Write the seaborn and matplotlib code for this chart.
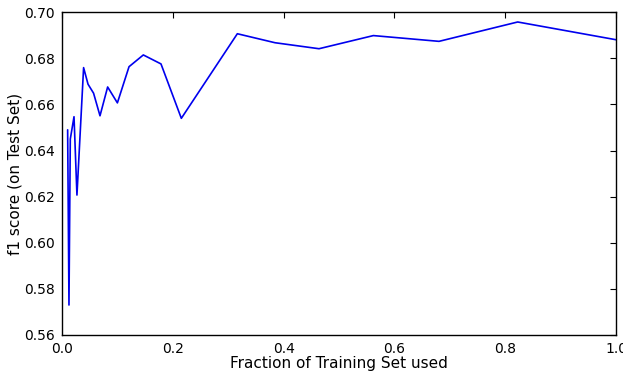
import matplotlib
matplotlib.use("Agg")
import matplotlib.pyplot as plt
import seaborn as sns
import pandas as pd

# fraction of training set used vs f1 score on test set
fractions = [0.0102, 0.0126, 0.015, 0.0217, 0.027, 0.039, 0.047, 0.057, 0.0686,
             0.0824, 0.100, 0.121, 0.1468, 0.1787, 0.2154, 0.3165, 0.3845, 0.4639,
             0.562, 0.6805, 0.8225, 1.0]
f1_scores = [0.649, 0.573, 0.645, 0.6547, 0.6207, 0.676, 0.6688, 0.6649, 0.6551,
             0.6676, 0.6607, 0.6764, 0.6815, 0.6776, 0.654, 0.6907, 0.6868, 0.6842,
             0.6899, 0.6874, 0.6958, 0.6881]
x_ticks = [0.0, 0.2, 0.4, 0.6, 0.8, 1.0]
y_ticks = [0.56, 0.58, 0.60, 0.62, 0.64, 0.66, 0.68, 0.70]

df = pd.DataFrame({"fraction": fractions, "f1": f1_scores})

sns.set_style("white")
plt.rcParams["font.family"] = ["DejaVu Sans"]
plt.rcParams["text.color"] = "black"
plt.rcParams["axes.labelcolor"] = "black"
plt.rcParams["xtick.color"] = "black"
plt.rcParams["ytick.color"] = "black"

fig = plt.figure(figsize=(6.23, 3.73), dpi=100)
ax = fig.add_axes([0.0995, 0.102, 0.8893, 0.865])

sns.lineplot(data=df, x="fraction", y="f1", color="#0000ee", linewidth=1.2,
             sort=False, ax=ax)

ax.set_xlim(0, 1.0)
ax.set_ylim(0.56, 0.70)
ax.set_xticks(x_ticks)
ax.set_yticks(y_ticks)
ax.set_xticklabels([f"{v:.1f}" for v in x_ticks])
ax.set_yticklabels([f"{v:.2f}" for v in y_ticks])
ax.tick_params(direction="in", top=True, right=True, length=4, width=0.8,
               labelsize=10, colors="black", pad=5)
for s in ax.spines.values():
    s.set_color("black")
    s.set_linewidth(1.0)

ax.set_xlabel("Fraction of Training Set used", fontsize=11, labelpad=0)
ax.set_ylabel("f1 score (on Test Set)", fontsize=11, labelpad=1)

fig.savefig("out.png", dpi=100)
